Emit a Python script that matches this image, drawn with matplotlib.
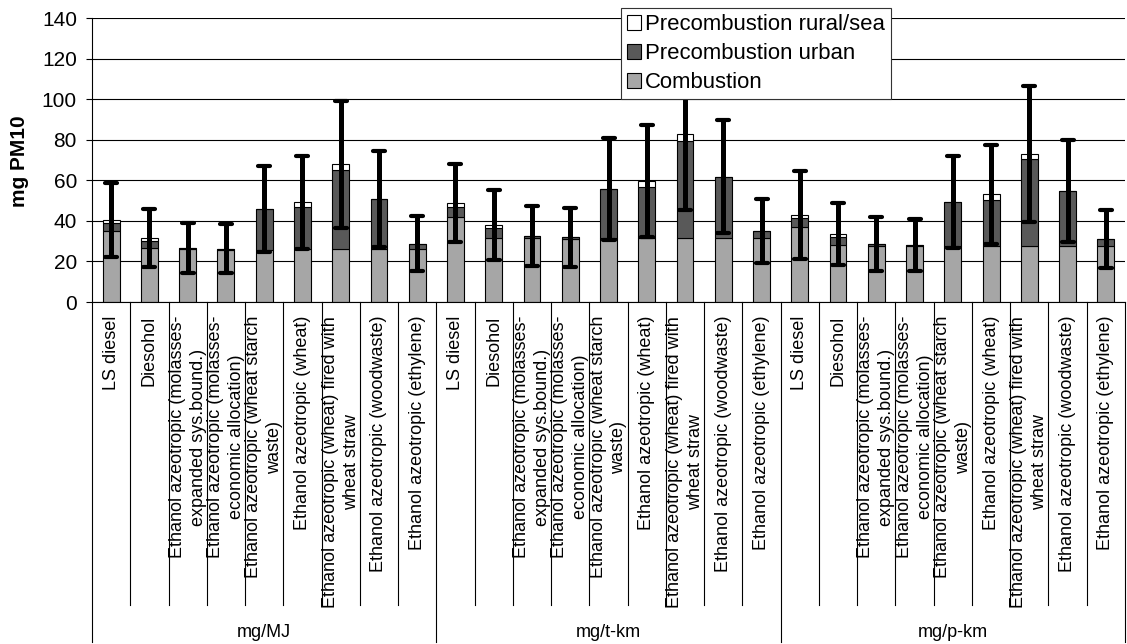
import numpy as np
import matplotlib
matplotlib.use("Agg")
import matplotlib.pyplot as plt
from matplotlib.markers import MarkerStyle

plt.rcParams['font.family'] = ['Liberation Sans', 'DejaVu Sans']

# PM10 emissions per fuel, three functional units
fuels = [
    "LS diesel",
    "Diesohol",
    "Ethanol azeotropic (molasses-\nexpanded sys.bound.)",
    "Ethanol azeotropic (molasses-\neconomic allocation)",
    "Ethanol azeotropic (wheat starch\nwaste)",
    "Ethanol azeotropic (wheat)",
    "Ethanol azeotropic (wheat) fired with\nwheat straw",
    "Ethanol azeotropic (woodwaste)",
    "Ethanol azeotropic (ethylene)",
]
units = ["mg/MJ", "mg/t-km", "mg/p-km"]

combustion = [35.0, 26.6, 26.0, 25.8, 25.6, 26.0, 26.0, 26.0, 26.0,
              42.0, 31.7, 31.5, 31.3, 31.4, 31.4, 31.4, 31.4, 31.7,
              37.1, 28.1, 27.8, 27.6, 27.6, 27.6, 27.6, 27.6, 27.7]
pre_urban = [3.8, 3.3, 0.6, 0.5, 20.1, 20.6, 39.0, 24.9, 2.7,
             4.9, 4.6, 1.0, 0.6, 24.3, 25.4, 48.2, 30.3, 3.4,
             4.1, 4.1, 0.8, 0.5, 21.7, 22.6, 42.7, 27.2, 3.3]
pre_rural = [1.6, 1.6, 0.0, 0.0, 0.0, 2.5, 2.8, 0.0, 0.0,
             1.7, 1.6, 0.0, 0.0, 0.0, 3.0, 3.0, 0.0, 0.0,
             1.7, 1.1, 0.0, 0.0, 0.0, 2.8, 2.6, 0.0, 0.0]
uncertainty = [18.3, 14.2, 12.4, 12.1, 21.2, 22.8, 31.3, 23.7, 13.5,
               19.2, 17.3, 14.8, 14.5, 25.2, 27.6, 37.3, 27.9, 15.9,
               21.5, 15.3, 13.3, 13.0, 22.8, 24.4, 33.5, 25.0, 14.4]

comb = np.array(combustion)
urb = np.array(pre_urban)
rur = np.array(pre_rural)
total = comb + urb + rur
x = np.arange(len(comb))
n_fuel = len(fuels)

fig = plt.figure(figsize=(11.27, 6.44), dpi=100)
ax = fig.add_axes([92 / 1127, 1 - 302 / 644, 1033 / 1127, 284 / 644])

w = 0.44
ax.bar(x, comb, w, color="#a6a6a6", edgecolor="black", linewidth=0.8, zorder=2,
       label="Combustion")
ax.bar(x, urb, w, bottom=comb, color="#595959", edgecolor="black", linewidth=0.8,
       zorder=2, label="Precombustion urban")
ax.bar(x, rur, w, bottom=comb + urb, color="white", edgecolor="black", linewidth=0.8,
       zorder=2, label="Precombustion rural/sea")

eb = ax.errorbar(x, total, yerr=uncertainty, fmt="none", ecolor="black",
                 elinewidth=3.6, capsize=4.3, capthick=3, zorder=3)
for cap in eb[1]:
    cap.set_marker(MarkerStyle("_", capstyle="round"))

ax.set_xlim(-0.5, len(x) - 0.5)
ax.set_ylim(0, 140)
ax.set_yticks(range(0, 141, 20))
ax.tick_params(axis="y", labelsize=15, length=4.3, width=0.8, pad=6.5, color="black")
ax.set_xticks([])
ax.yaxis.grid(True, color="black", linewidth=0.8)
ax.set_axisbelow(True)
for s in ["top", "right"]:
    ax.spines[s].set_visible(False)
ax.spines["left"].set_linewidth(0.8)
ax.spines["bottom"].set_linewidth(0.8)

fig.text(20 / 1127, 1 - 161 / 644, "mg PM10", rotation=90, ha="center", va="center",
         fontsize=15, fontweight="bold")

# category table under the axis
tr = ax.get_xaxis_transform()
for k in range(len(x) + 1):
    xb = k - 0.5
    y_end = -1.197 if k % n_fuel == 0 else -1.067
    ax.plot([xb, xb], [0, y_end], color="black", linewidth=0.8, transform=tr,
            clip_on=False)
for i, xi in enumerate(x):
    ax.text(xi, -0.049, fuels[i % n_fuel], transform=tr, rotation=90, ha="center",
            va="top", multialignment="center", fontsize=13, linespacing=1.3)
for g, u in enumerate(units):
    ax.text(g * n_fuel + (n_fuel - 1) / 2, -1.162, u, transform=tr, ha="center",
            va="center", fontsize=13)

h, l = ax.get_legend_handles_labels()
leg = ax.legend(h[::-1], l[::-1], loc="upper left", bbox_to_anchor=(0.512, 1.035),
                fontsize=15.9, frameon=True, fancybox=False, edgecolor="#333333",
                framealpha=1, borderpad=0.28, labelspacing=0.36, handlelength=0.62,
                handleheight=0.62, handletextpad=0.2, borderaxespad=0)
leg.get_frame().set_linewidth(0.8)
leg.set_zorder(5)

fig.savefig("out.png", dpi=100)
